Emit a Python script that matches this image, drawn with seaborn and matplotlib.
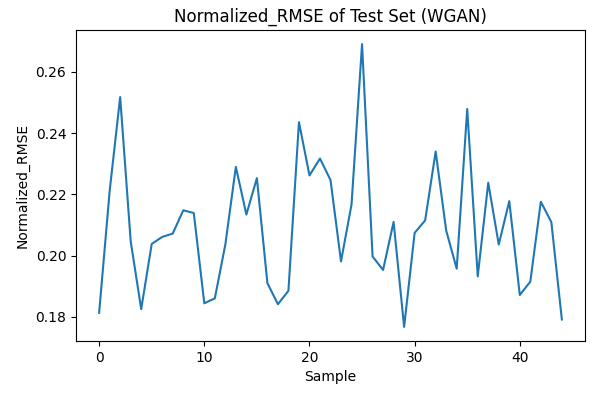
import numpy as np
import pandas as pd
import matplotlib
matplotlib.use('Agg')
import matplotlib.pyplot as plt
import seaborn as sns

# values
samples = list(range(45))
rmse = [0.1813, 0.2211, 0.2518, 0.2047, 0.1825, 0.2038, 0.2061, 0.2072, 0.2148, 0.2139,
        0.1844, 0.1860, 0.2036, 0.2290, 0.2134, 0.2253, 0.1910, 0.1841, 0.1885, 0.2436,
        0.2262, 0.2317, 0.2247, 0.1981, 0.2167, 0.2691, 0.1997, 0.1953, 0.2110, 0.1767,
        0.2074, 0.2115, 0.2340, 0.2082, 0.1957, 0.2479, 0.1932, 0.2238, 0.2036, 0.2178,
        0.1871, 0.1915, 0.2176, 0.2109, 0.1791]

df = pd.DataFrame({'Sample': samples, 'Normalized_RMSE': rmse})

fig = plt.figure(figsize=(5.98, 3.93), dpi=100)
ax = fig.add_axes([76 / 598, 1 - 341 / 393, 509 / 598, 311 / 393])

sns.lineplot(data=df, x='Sample', y='Normalized_RMSE', ax=ax, color='#1f77b4', linewidth=1.5)

ax.set_title('Normalized_RMSE of Test Set (WGAN)', fontsize=12)
ax.set_xlabel('Sample', fontsize=10)
ax.set_ylabel('Normalized_RMSE', fontsize=10)
ax.set_xticks([0, 10, 20, 30, 40])
ax.set_yticks([0.18, 0.20, 0.22, 0.24, 0.26])
ax.tick_params(labelsize=10)

fig.savefig('out.png', dpi=100, facecolor='white')
plt.close()
